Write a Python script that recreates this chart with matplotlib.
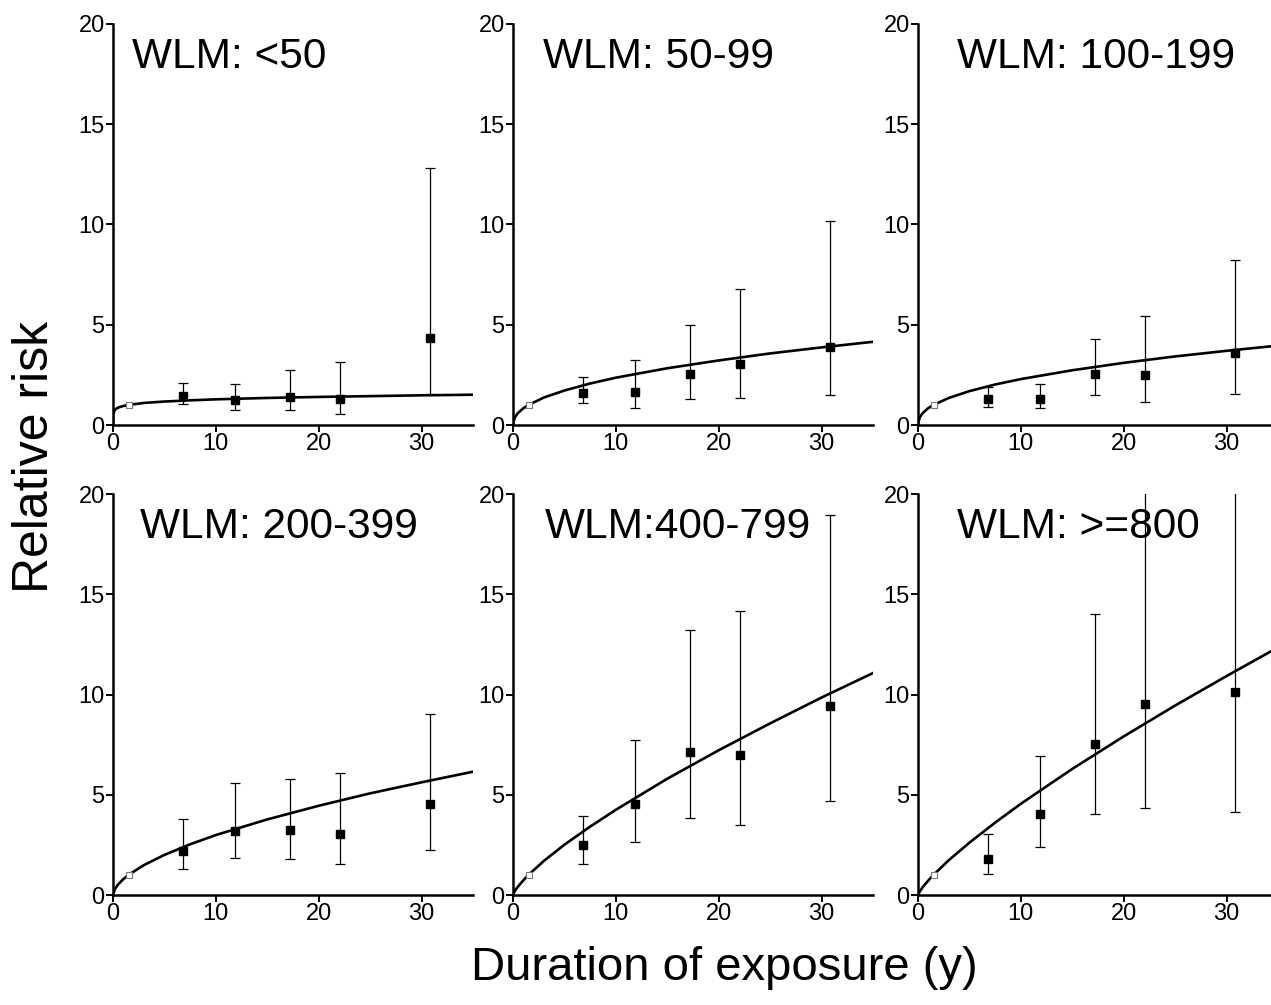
import matplotlib
matplotlib.use("Agg")
import matplotlib.pyplot as plt

plt.rcParams['font.family'] = ['Liberation Sans', 'DejaVu Sans']

titles = ["WLM: <50", "WLM: 50-99", "WLM: 100-199",
          "WLM: 200-399", "WLM:400-799", "WLM: >=800"]

# duration midpoints (y)
dur = [6.8, 11.9, 17.2, 22.1, 30.8]
ref_dur = 1.6
ref_rr = 1.0

rr = [
    [1.47, 1.23, 1.38, 1.30, 4.35],
    [1.62, 1.65, 2.53, 3.05, 3.88],
    [1.30, 1.30, 2.55, 2.50, 3.60],
    [2.20, 3.20, 3.23, 3.05, 4.53],
    [2.47, 4.53, 7.12, 7.00, 9.42],
    [1.80, 4.05, 7.52, 9.52, 10.13],
]
ci_low = [
    [1.07, 0.73, 0.73, 0.57, 1.53],
    [1.12, 0.85, 1.30, 1.33, 1.50],
    [0.90, 0.85, 1.52, 1.13, 1.57],
    [1.30, 1.87, 1.82, 1.57, 2.25],
    [1.57, 2.65, 3.83, 3.48, 4.70],
    [1.07, 2.38, 4.05, 4.33, 4.12],
]
ci_high = [
    [2.07, 2.02, 2.75, 3.12, 12.80],
    [2.38, 3.22, 4.98, 6.80, 10.17],
    [1.92, 2.03, 4.30, 5.45, 8.22],
    [3.78, 5.58, 5.78, 6.08, 9.05],
    [3.95, 7.75, 13.23, 14.15, 18.93],
    [3.05, 6.92, 14.00, 22.00, 25.00],
]

# fitted curve
fit_x = [0, 0.02, 0.2, 0.5, 1, 1.5, 3, 5, 7.5, 10, 15, 20, 25, 30, 35]
fit_y = [
    [0, 0.57, 0.77, 0.87, 0.95, 1.00, 1.10, 1.17, 1.23, 1.28, 1.35, 1.40, 1.44, 1.48, 1.51],
    [0, 0.14, 0.40, 0.61, 0.83, 1.00, 1.37, 1.72, 2.07, 2.36, 2.83, 3.22, 3.57, 3.87, 4.15],
    [0, 0.15, 0.41, 0.62, 0.84, 1.00, 1.35, 1.69, 2.02, 2.29, 2.73, 3.10, 3.42, 3.70, 3.96],
    [0, 0.08, 0.31, 0.53, 0.79, 1.00, 1.49, 2.00, 2.53, 2.99, 3.77, 4.45, 5.07, 5.62, 6.15],
    [0, 0.04, 0.22, 0.43, 0.73, 1.00, 1.70, 2.51, 3.41, 4.25, 5.80, 7.22, 8.56, 9.85, 11.07],
    [0, 0.03, 0.20, 0.42, 0.72, 1.00, 1.74, 2.61, 3.61, 4.55, 6.29, 7.91, 9.45, 10.92, 12.35],
]

title_x = [1.85, 2.9, 3.8, 2.6, 3.1, 3.8]

W, H = 1271, 1005
fig = plt.figure(figsize=(W / 100, H / 100), dpi=100)

lefts = [113, 513, 918]
bottoms = [425, 895]
for i in range(6):
    r, c = divmod(i, 3)
    ax = fig.add_axes([lefts[c] / W, 1 - bottoms[r] / H, 360 / W, 401 / H])
    ax.plot(fit_x, fit_y[i], color='black', lw=1.9, zorder=2)
    lo = [rr[i][k] - ci_low[i][k] for k in range(5)]
    hi = [ci_high[i][k] - rr[i][k] for k in range(5)]
    ax.errorbar(dur, rr[i], yerr=[lo, hi], fmt='s', color='black', ms=6,
                ecolor='black', elinewidth=0.9, capsize=3.5, capthick=0.9, zorder=3)
    ax.plot([ref_dur], [ref_rr], 's', ms=4, mfc='white', mec='#777777', mew=0.8, zorder=4)
    ax.text(title_x[i], 17.8, titles[i], fontsize=30.5, va='baseline', ha='left')
    ax.set_xlim(0, 35)
    ax.set_ylim(0, 20)
    ax.set_xticks([0, 10, 20, 30])
    ax.set_yticks([0, 5, 10, 15, 20])
    for s in ['top', 'right']:
        ax.spines[s].set_visible(False)
    for s in ['left', 'bottom']:
        ax.spines[s].set_linewidth(1.8)
    ax.tick_params(direction='out', length=5, width=1.4, labelsize=17, pad=1)
    ax.patch.set_alpha(0)

fig.text(35 / W, 1 - 457 / H, "Relative risk", rotation=90, fontsize=36,
         ha='center', va='center')
fig.text(724 / W, 1 - 968 / H, "Duration of exposure (y)", fontsize=34,
         ha='center', va='center')

fig.savefig("out.png", dpi=100)
